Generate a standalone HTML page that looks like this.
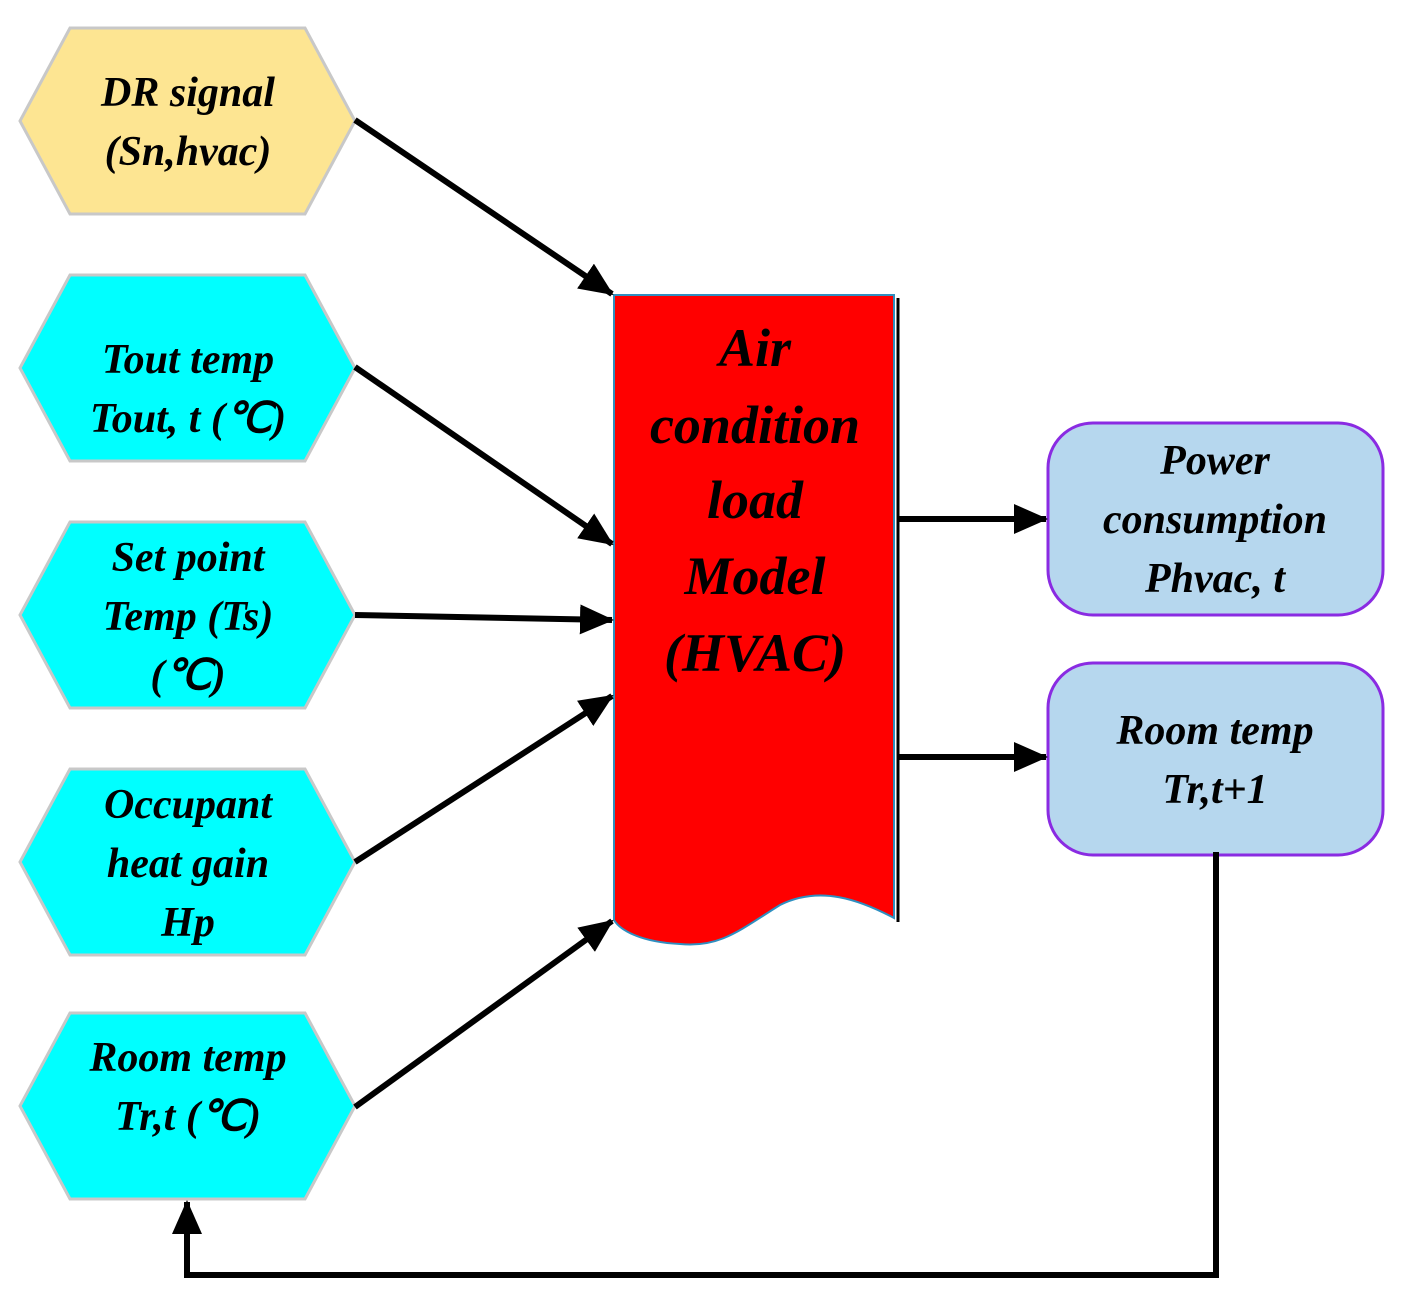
<!DOCTYPE html>
<html><head><meta charset="utf-8"><style>html,body{margin:0;padding:0;background:#fff}</style></head>
<body>
<svg width="1402" height="1300" viewBox="0 0 1402 1300" xmlns="http://www.w3.org/2000/svg">
<defs>
<marker id="ah" markerWidth="10" markerHeight="10" refX="9" refY="5" orient="auto" markerUnits="userSpaceOnUse" viewBox="0 0 10 10">
<path d="M0,0 L10,5 L0,10 z" fill="#000"/></marker>
<marker id="ah2" markerWidth="34" markerHeight="30" refX="32" refY="15" orient="auto" markerUnits="userSpaceOnUse">
<path d="M0,0 L34,15 L0,30 z" fill="#000"/></marker>
</defs>
<g stroke="#c8c8c8" stroke-width="3">
<polygon points="20,121 70,28 305,28 355,121 305,214 70,214" fill="#fde592"/>
<polygon points="20,368 70,275 305,275 355,368 305,461 70,461" fill="#00ffff"/>
<polygon points="20,615 70,522 305,522 355,615 305,708 70,708" fill="#00ffff"/>
<polygon points="20,862 70,769 305,769 355,862 305,955 70,955" fill="#00ffff"/>
<polygon points="20,1106 70,1013 305,1013 355,1106 305,1199 70,1199" fill="#00ffff"/>
</g>
<path d="M898,298 L898,922" stroke="#000" stroke-width="3"/>
<path d="M614,295 L894,295 L894,918 C860,900 820,885 780,905 C740,930 720,948 680,944 C640,942 620,930 614,920 Z" fill="#ff0000" stroke="#2f8fc0" stroke-width="2"/>
<rect x="1048" y="423" width="335" height="192" rx="45" fill="#b6d7ee" stroke="#8a2be2" stroke-width="3"/>
<rect x="1048" y="663" width="335" height="192" rx="45" fill="#b6d7ee" stroke="#8a2be2" stroke-width="3"/>
<g stroke="#000" stroke-width="6" fill="none" marker-end="url(#ah2)">
<line x1="355" y1="120" x2="612" y2="294"/>
<line x1="355" y1="367" x2="612" y2="544"/>
<line x1="355" y1="615" x2="612" y2="620"/>
<line x1="355" y1="862" x2="612" y2="696"/>
<line x1="355" y1="1107" x2="612" y2="921"/>
<line x1="898" y1="519" x2="1046" y2="519"/>
<line x1="898" y1="757" x2="1046" y2="757"/>
<polyline points="1216,852 1216,1275 187,1275 187,1202"/>
</g>
<g font-family="Liberation Serif, serif" font-style="italic" font-weight="bold" font-size="42" text-anchor="middle" fill="#000">
<text x="188" y="106">DR signal</text><text x="188" y="165">(Sn,hvac)</text>
<text x="188" y="373">Tout temp</text><text x="188" y="432">Tout, t (℃)</text>
<text x="188" y="571">Set point</text><text x="188" y="630">Temp (Ts)</text><text x="188" y="689">(℃)</text>
<text x="188" y="818">Occupant</text><text x="188" y="877">heat gain</text><text x="188" y="936">Hp</text>
<text x="188" y="1071">Room temp</text><text x="188" y="1130">Tr,t (℃)</text>
<text x="1215" y="474">Power</text><text x="1215" y="533">consumption</text><text x="1215" y="592">Phvac, t</text>
<text x="1215" y="744">Room temp</text><text x="1215" y="803">Tr,t+1</text>
<g font-size="54">
<text x="755" y="366">Air</text><text x="755" y="443">condition</text><text x="755" y="518">load</text><text x="755" y="594">Model</text><text x="755" y="671">(HVAC)</text>
</g>
</g>
</svg>
</body></html>
